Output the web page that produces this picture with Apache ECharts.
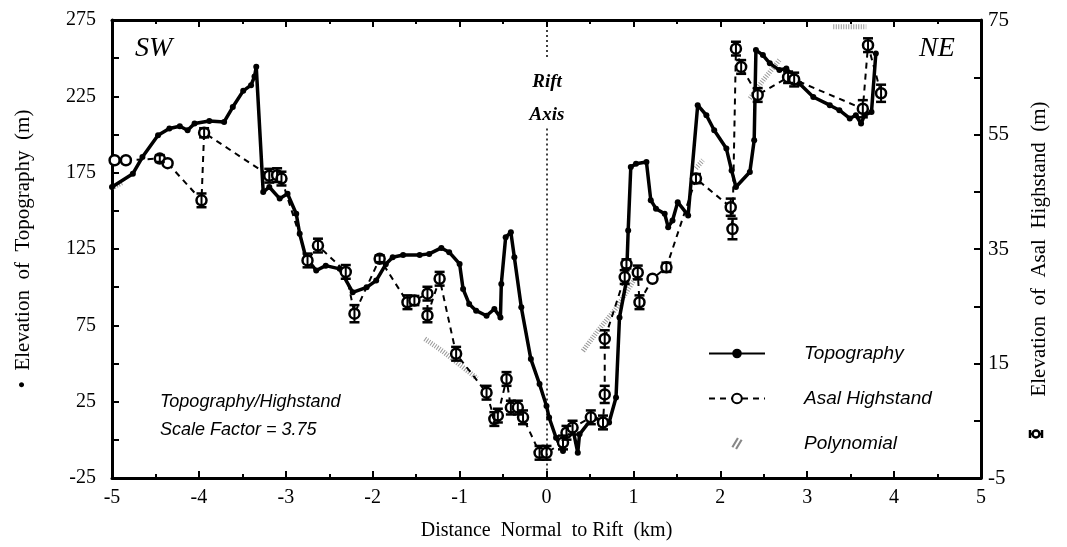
<!DOCTYPE html>
<html><head><meta charset="utf-8">
<script src="https://cdn.jsdelivr.net/npm/echarts@6/dist/echarts.min.js"></script>
<style>html,body{margin:0;padding:0;background:#fff}#c{width:1067px;height:547px}</style>
</head><body><div id="c"></div>
<script>
// Topography (left axis, m)
var topoX = [-5.00,-4.76,-4.65,-4.47,-4.34,-4.22,-4.13,-4.05,-3.88,-3.71,-3.61,-3.49,-3.40,-3.36,-3.34,-3.26,-3.19,-3.07,-2.98,-2.88,-2.84,-2.77,-2.65,-2.54,-2.38,-2.23,-2.07,-1.96,-1.85,-1.77,-1.65,-1.46,-1.35,-1.21,-1.12,-1.00,-0.96,-0.89,-0.81,-0.69,-0.60,-0.53,-0.52,-0.47,-0.41,-0.37,-0.29,-0.18,-0.08,0.00,0.03,0.11,0.19,0.23,0.30,0.36,0.38,0.53,0.72,0.80,0.84,0.92,0.94,0.97,1.03,1.15,1.20,1.26,1.36,1.40,1.45,1.51,1.63,1.74,1.84,1.93,2.07,2.13,2.18,2.34,2.39,2.41,2.49,2.57,2.68,2.76,2.91,3.07,3.26,3.37,3.49,3.56,3.62,3.66,3.74,3.79];
var topoY = [165.6,174.3,185.2,199.5,203.9,205.4,202.8,207.2,208.9,208.2,218,228.6,232.3,238,244.3,162.3,165.6,158,161.2,148.1,135,119.6,110.9,114.1,112,96.6,99.9,104.3,115,119.6,121.1,121.1,121.8,125.7,122.9,115.2,98.8,89,84.6,81.3,85.7,80.2,102.1,132.7,136,119.6,86.8,52.9,36.5,22.2,14.6,1.4,-7.3,3.6,8,-8.4,3.6,14.6,11.3,27.7,80.2,104.3,137.1,178.7,180.9,182,157,151.4,148.1,139.3,143.7,155.7,147,219.2,212.6,202.8,190.8,176.5,165.6,175.4,196.2,255.3,252,246.6,242.2,243.3,233.4,224.6,219.2,215.9,210.5,212.6,207.2,212.6,214.8,253.1];
// Asal Highstand (right axis, m)
var hsX = [-4.97,-4.84,-4.45,-4.36,-3.97,-3.94,-3.19,-3.10,-3.05,-2.75,-2.63,-2.31,-2.21,-1.92,-1.60,-1.52,-1.37,-1.37,-1.23,-1.04,-0.69,-0.60,-0.56,-0.46,-0.41,-0.33,-0.27,-0.08,0.00,0.19,0.23,0.30,0.51,0.65,0.67,0.67,0.90,0.92,1.05,1.07,1.22,1.38,1.72,2.12,2.14,2.18,2.24,2.43,2.78,2.85,3.64,3.70,3.85];
var hsY = [50.5,50.5,50.8,50.0,43.5,55.3,47.8,47.9,47.3,33.0,35.6,31.0,23.7,33.3,25.7,26.0,27.2,23.4,29.8,16.7,9.9,5.3,5.9,12.3,7.3,7.3,5.6,-0.6,-0.6,1.2,2.9,3.8,5.6,4.7,9.6,19.3,30.1,32.4,30.9,25.7,29.8,31.8,47.3,42.3,38.5,70.0,66.8,61.9,65.0,64.6,59.5,70.6,62.2];
var hsErr = [0,0,0.6,0,1.2,0.8,1.2,1.2,1.2,1.2,1.2,1.2,1.5,0.6,1.2,0.8,1.2,1.2,1.2,1.2,1.2,1.2,1.2,1.2,1.2,1.2,1.2,1.2,1.2,1.2,1.2,1.2,1.2,1.2,1.5,1.5,1.2,0.8,1.2,1.2,0,0.8,0.8,1.5,1.8,1.2,1.2,1.2,1.0,1.2,1.5,1.2,1.5];
// Polynomial fit pieces (right axis, m)
var polyX = [-5.00,-4.88,null,-1.40,-1.20,-1.00,-0.80,null,0.42,0.60,0.80,1.03,null,1.72,1.80,null,2.34,2.50,2.68,null,3.30,3.68];
var polyY = [45.7,46.6,null,19.3,17.2,14.8,12.4,null,17.2,20.9,24.6,30.1,null,49.1,50.5,null,61.3,64.6,68.0,null,73.8,73.8];
// Axes
var xTicks = {min:-5, max:5, interval:1};
var yLeft = {min:-25, max:275, interval:50};
var yRight = {min:-5, max:75, interval:20};

function pairs(xs, ys){ var o=[]; for(var i=0;i<xs.length;i++){ o.push(xs[i]===null?['-','-']:[xs[i],ys[i]]); } return o; }
var errData = []; for (var i=0;i<hsX.length;i++){ if(hsErr[i]>0) errData.push([hsX[i], hsY[i]-hsErr[i], hsY[i]+hsErr[i]]); }

var serif = 'Liberation Serif';
var chart = echarts.init(document.getElementById('c'));
function axLine(){ return {show:true, onZero:false, lineStyle:{color:'#000', width:3}}; }
function tick(){ return {inside:true, length:7, lineStyle:{width:2,color:'#000'}}; }
function minor(len){ return {show:true, splitNumber:2, length:len, lineStyle:{width:2,color:'#000'}}; }
chart.setOption({
  animation:false,
  grid:{left:112, right:86, top:20, bottom:69},
  xAxis:[{type:'value', min:xTicks.min, max:xTicks.max, interval:xTicks.interval, position:'bottom',
    axisLine:axLine(), axisTick:tick(), minorTick:minor(4),
    splitLine:{show:false}, axisLabel:{color:'#000', fontFamily:serif, fontSize:20, margin:10},
    name:'Distance  Normal  to Rift  (km)', nameLocation:'middle', nameGap:43,
    nameTextStyle:{color:'#000', fontFamily:serif, fontSize:20}},
   {type:'value', min:xTicks.min, max:xTicks.max, interval:xTicks.interval, position:'top',
    axisLine:axLine(), axisTick:tick(), minorTick:minor(4),
    splitLine:{show:false}, axisLabel:{show:false}}],
  yAxis:[{type:'value', min:yLeft.min, max:yLeft.max, interval:yLeft.interval, position:'left',
    axisLine:axLine(), axisTick:tick(), minorTick:minor(7),
    splitLine:{show:false}, axisLabel:{color:'#000', fontFamily:serif, fontSize:20, margin:16},
    name:'•  Elevation  of  Topography  (m)', nameLocation:'middle', nameGap:78,
    nameTextStyle:{color:'#000', fontFamily:serif, fontSize:21}},
   {type:'value', min:yRight.min, max:yRight.max, interval:yRight.interval, position:'right',
    axisLine:axLine(), axisTick:tick(), minorTick:minor(7),
    splitLine:{show:false}, axisLabel:{color:'#000', fontFamily:serif, fontSize:21, margin:7},
    name:'Elevation  of  Asal  Highstand  (m)', nameLocation:'middle', nameGap:48, nameRotate:90,
    nameTextStyle:{color:'#000', fontFamily:serif, fontSize:21}}],
  legend:{orient:'vertical', left:703, top:339, itemWidth:56, itemHeight:12, itemGap:26,
    textStyle:{color:'#000', fontStyle:'italic', fontFamily:'Liberation Sans', fontSize:19, padding:[0,0,0,34]},
    data:[{name:'Topography'},{name:'Asal Highstand'},
      {name:'Polynomial', icon:'path://M0,10L6,0L8,1L2,11Z M4,12L10,2L12,3L6,13Z', itemStyle:{color:'#888'}}]},
  graphic:[
    {type:'text', left:135, top:35, style:{text:'SW', font:'italic 28px "Liberation Serif"', fill:'#000'}},
    {type:'text', left:919, top:35, style:{text:'NE', font:'italic 28px "Liberation Serif"', fill:'#000'}},
    {type:'text', x:547, y:82, style:{text:'Rift', font:'italic bold 19px "Liberation Serif"', fill:'#000', align:'center', verticalAlign:'middle'}},
    {type:'text', x:547, y:115, style:{text:'Axis', font:'italic bold 19px "Liberation Serif"', fill:'#000', align:'center', verticalAlign:'middle'}},
    {type:'text', left:160, top:393, style:{text:'Topography/Highstand', font:'italic 18px "Liberation Sans"', fill:'#000'}},
    {type:'text', left:160, top:421, style:{text:'Scale Factor = 3.75', font:'italic 18px "Liberation Sans"', fill:'#000'}},
    {type:'group', x:1036, y:434, children:[
      {type:'circle', shape:{cx:0, cy:0, r:3.5}, style:{fill:'#fff', stroke:'#000', lineWidth:2.5}},
      {type:'line', shape:{x1:-6, y1:0, x2:-3.5, y2:0}, style:{stroke:'#000', lineWidth:2}},
      {type:'line', shape:{x1:3.5, y1:0, x2:6, y2:0}, style:{stroke:'#000', lineWidth:2}},
      {type:'line', shape:{x1:-6, y1:-4, x2:-6, y2:4}, style:{stroke:'#000', lineWidth:2.5}},
      {type:'line', shape:{x1:6, y1:-4, x2:6, y2:4}, style:{stroke:'#000', lineWidth:2.5}}
    ]}
  ],
  series:[
    {name:'Polynomial', type:'line', yAxisIndex:1, data:pairs(polyX, polyY), connectNulls:false, symbol:'none',
      lineStyle:{color:'#999', width:5, type:[1,1.5]}, z:1},
    {name:'Topography', type:'line', yAxisIndex:0, data:pairs(topoX, topoY), symbol:'circle', symbolSize:6,
      itemStyle:{color:'#000'}, lineStyle:{color:'#000', width:3.5}, z:3,
      markLine:{silent:true, symbol:'none', label:{show:false},
        lineStyle:{color:'#000', width:1.5, type:[2,3]},
        data:[[{coord:[0,275]},{coord:[0,250]}],[{coord:[0,204]},{coord:[0,-25]}]]}},
    {name:'Asal Highstand', type:'line', yAxisIndex:1, data:pairs(hsX, hsY), symbol:'circle', symbolSize:10,
      itemStyle:{color:'#fff', borderColor:'#000', borderWidth:2.5},
      lineStyle:{color:'#000', width:2, type:[6,5]}, z:4},
    {name:'err', type:'custom', yAxisIndex:1, data:errData, z:5,
      renderItem:function(params, api){
        var x=api.value(0), lo=api.value(1), hi=api.value(2);
        var a=api.coord([x,hi]), b=api.coord([x,lo]); var w=5;
        return {type:'group', children:[
          {type:'line', shape:{x1:a[0],y1:a[1],x2:b[0],y2:b[1]}, style:{stroke:'#000', lineWidth:2}},
          {type:'line', shape:{x1:a[0]-w,y1:a[1],x2:a[0]+w,y2:a[1]}, style:{stroke:'#000', lineWidth:2.5}},
          {type:'line', shape:{x1:b[0]-w,y1:b[1],x2:b[0]+w,y2:b[1]}, style:{stroke:'#000', lineWidth:2.5}}
        ]};
      }}
  ]
});
</script></body></html>
